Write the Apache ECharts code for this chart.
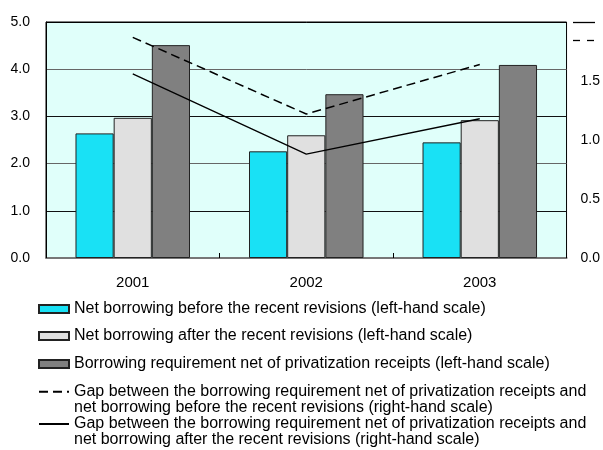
<!DOCTYPE html>
<html>
<head>
<meta charset="utf-8">
<script src="https://cdn.jsdelivr.net/npm/echarts@6/dist/echarts.min.js"></script>
<style>
  html, body { margin: 0; padding: 0; background: #fff; }
  #chart { width: 603px; height: 450px; }
</style>
</head>
<body>
<div id="chart"></div>
<script>
// Years on the category axis
const years = ['2001', '2002', '2003'];

// Left-hand scale: percentage of GDP
const netBefore = [2.64, 2.26, 2.45];
const netAfter = [2.97, 2.60, 2.92];
const borrowingReq = [4.51, 3.47, 4.09];

// Right-hand scale: gaps in percentage points
const gapBefore = [1.87, 1.22, 1.64];
const gapAfter = [1.56, 0.88, 1.18];

const seriesNames = [
  'Net borrowing before the recent revisions (left-hand scale)',
  'Net borrowing after the recent revisions (left-hand scale)',
  'Borrowing requirement net of privatization receipts (left-hand scale)',
  'Gap between the borrowing requirement net of privatization receipts and\nnet borrowing before the recent revisions (right-hand scale)',
  'Gap between the borrowing requirement net of privatization receipts and\nnet borrowing after the recent revisions (right-hand scale)'
];

const FONT = '"Liberation Sans", Arial, sans-serif';
const chart = echarts.init(document.getElementById('chart'), null, { renderer: 'canvas' });

// one legend block per entry so each row sits where it should;
// two-line entries get an empty first line so the key lines up with the first text line
const legendTops = [301, 328, 356, 367.7, 400];
const legends = seriesNames.map((name, i) => {
  const twoLine = i >= 3;
  const l = {
    data: [name],
    orient: 'vertical',
    left: 38,
    top: legendTops[i],
    padding: 0,
    itemWidth: 30,
    itemHeight: 8,
    selectedMode: false,
    textStyle: { fontFamily: FONT, fontSize: 16, color: '#000', lineHeight: 16 }
  };
  if (twoLine) {
    l.formatter = n => '\n' + n;
    l.itemStyle = { color: 'rgba(0,0,0,0)', borderWidth: 0, opacity: 0 };
  } else {
    l.icon = 'rect';
  }
  return l;
});

const barStyle = (color) => ({ color: color, borderColor: '#222', borderWidth: 1 });

chart.setOption({
  animation: false,
  backgroundColor: '#fff',
  textStyle: { fontFamily: FONT },
  grid: {
    left: 46, right: 35, top: 22, bottom: 192,
    show: true,
    backgroundColor: '#e0fffa',
    borderColor: '#000',
    borderWidth: 1
  },
  legend: legends,
  xAxis: {
    type: 'category',
    data: years,
    axisLine: { lineStyle: { color: '#777', width: 2 } },
    axisTick: { show: true, inside: true, length: 5, lineStyle: { color: '#000' } },
    axisLabel: { margin: 17, fontSize: 15, color: '#000', fontFamily: FONT },
    splitLine: { show: false }
  },
  yAxis: [
    {
      type: 'value',
      min: 0, max: 5, interval: 1,
      axisLine: { show: true, lineStyle: { color: '#000' } },
      axisTick: { show: false },
      axisLabel: { margin: 16, fontSize: 14, color: '#000', fontFamily: FONT,
                   formatter: v => v.toFixed(1) },
      splitLine: { show: true, lineStyle: { color: ['#000', '#111', '#666', '#111', '#666', '#000'], width: 1 } }
    },
    {
      type: 'value',
      position: 'right',
      min: 0, max: 2, interval: 0.5,
      axisLine: { show: false },
      axisTick: { show: false },
      axisLabel: { margin: 14, fontSize: 14, color: '#000', fontFamily: FONT,
                   formatter: v => (v >= 2 ? '' : v.toFixed(1)) },
      splitLine: { show: false }
    }
  ],
  graphic: [
    { type: 'line', shape: { x1: 573, y1: 22.5, x2: 595, y2: 22.5 },
      style: { stroke: '#000', lineWidth: 1.3 } },
    { type: 'line', shape: { x1: 573, y1: 40.5, x2: 595, y2: 40.5 },
      style: { stroke: '#000', lineWidth: 1.3, lineDash: [7, 7] } }
  ],
  series: [
    { name: seriesNames[0], type: 'bar', data: netBefore, yAxisIndex: 0,
      barGap: '0%', barCategoryGap: '34%', itemStyle: barStyle('#19e1f5') },
    { name: seriesNames[1], type: 'bar', data: netAfter, yAxisIndex: 0,
      barGap: '0%', barCategoryGap: '34%', itemStyle: barStyle('#e0e0e0') },
    { name: seriesNames[2], type: 'bar', data: borrowingReq, yAxisIndex: 0,
      barGap: '0%', barCategoryGap: '34%', itemStyle: barStyle('#808080') },
    { name: seriesNames[3], type: 'line', data: gapBefore, yAxisIndex: 1, z: 5,
      symbol: 'none', lineStyle: { color: '#000', width: 1.5, type: [9, 5] },
      itemStyle: { color: '#000' } },
    { name: seriesNames[4], type: 'line', data: gapAfter, yAxisIndex: 1, z: 5,
      symbol: 'none', lineStyle: { color: '#000', width: 1.3, type: 'solid' },
      itemStyle: { color: '#000' } }
  ]
});
</script>
</body>
</html>
